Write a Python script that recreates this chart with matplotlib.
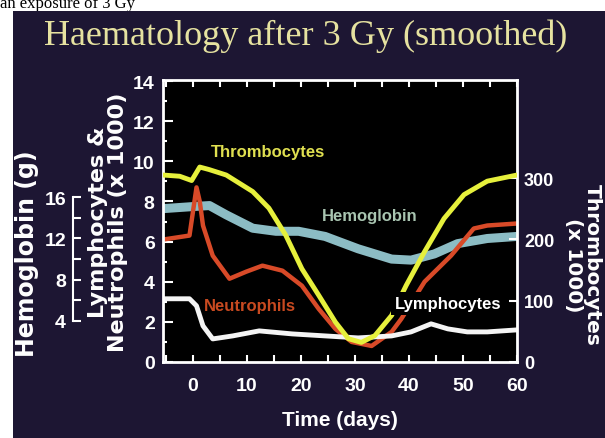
import matplotlib
matplotlib.use("Agg")
import matplotlib.pyplot as plt
from matplotlib.patches import Rectangle
from matplotlib.ticker import MultipleLocator, FixedLocator

# data (days after exposure)
thr_days = [-5.5, -2.4, -0.2, 1.3, 3.0, 6.2, 11.1, 14.1, 17.2, 20.2, 23.3, 26.4, 28.8,
            31.2, 33.7, 36.8, 38.0, 39.5, 42.9, 46.5, 50.2, 54.5, 60]
thr_vals = [305, 303, 296, 318, 314, 305, 278, 251, 207, 152, 109, 65, 38,
            32, 43, 76, 98, 125, 180, 234, 273, 295, 305]          # x 1000

hb_days = [-5.5, 0.0, 3.1, 6.2, 11.1, 15.4, 19.6, 24.5, 30.6, 36.8, 40.4, 44.7, 49.0, 54.5, 60]
hb_vals = [14.9, 15.1, 15.2, 14.3, 13.0, 12.7, 12.7, 12.2, 11.0, 10.0, 9.9, 10.5, 11.5, 12.0, 12.2]  # g

neu_days = [-5.5, -0.6, 0.7, 1.3, 1.9, 3.7, 6.8, 9.9, 12.9, 16.6, 20.2, 23.3, 26.4, 29.4,
            33.1, 36.8, 38.6, 42.9, 47.8, 52.0, 54.5, 60]
neu_vals = [6.1, 6.3, 8.7, 8.0, 6.8, 5.3, 4.15, 4.5, 4.8, 4.55, 3.8, 2.65, 1.65, 1.0,
            0.8, 1.5, 2.15, 4.0, 5.3, 6.65, 6.8, 6.9]              # x 1000

lym_days = [-5.5, -0.6, 0.7, 1.9, 3.7, 7.4, 12.3, 18.4, 24.5, 30.6, 36.8, 40.4, 44.1,
            47.2, 50.8, 54.5, 60]
lym_vals = [3.15, 3.15, 2.8, 1.8, 1.15, 1.3, 1.55, 1.4, 1.3, 1.2, 1.3, 1.5, 1.9,
            1.65, 1.5, 1.5, 1.6]                                   # x 1000

day_ticks = [0, 10, 20, 30, 40, 50, 60]
cell_ticks = [0, 2, 4, 6, 8, 10, 12, 14]
thr_ticks = [0, 100, 200, 300]
hb_ticks = [4, 8, 12, 16]

BG = "#1d1633"
narrow = "Liberation Sans"

fig = plt.figure(figsize=(6.05, 4.39), dpi=100, facecolor="white")
fig.patches.append(Rectangle((13 / 605, 0), 1, 1 - 12 / 439, transform=fig.transFigure,
                             facecolor=BG, edgecolor="none", zorder=-5))
# caption from the slide above, cut by the top edge as in the original
fig.text(0.0, 1 - 8 / 439, "an exposure of 3 Gy", family="Liberation Serif",
         fontsize=12, color="black", va="baseline", ha="left", zorder=-6)

fig.text(0.506, 1 - 36 / 439, "Haematology after 3 Gy (smoothed)", family="Liberation Serif",
         fontsize=26, color="#e6e2a0", ha="center", va="center")

rect = [163 / 605, 1 - 363 / 439, 354 / 605, 282 / 439]
ax_h = fig.add_axes(rect, zorder=-1)
ax = fig.add_axes(rect, zorder=0)
ax_r = fig.add_axes(rect, zorder=1)

# hemoglobin axis, drawn at the far left
ax_h.set_facecolor("black")
ax_h.plot(hb_days, hb_vals, color="#8cbcc4", lw=6.5, solid_capstyle="butt")
ax_h.set_xlim(-5.5, 60)
ax_h.set_ylim(0, 27.4)
ax_h.set_xticks([])
for s in ["top", "right", "bottom"]:
    ax_h.spines[s].set_visible(False)
ax_h.spines["left"].set_position(("axes", (73 - 163) / 354))
ax_h.spines["left"].set_bounds(4, 16)
ax_h.spines["left"].set_color("white")
ax_h.spines["left"].set_linewidth(1.5)
ax_h.yaxis.set_major_locator(FixedLocator(hb_ticks))
ax_h.yaxis.set_minor_locator(FixedLocator([6, 10, 14]))
ax_h.tick_params(axis="y", which="both", direction="in", length=6, width=1.5,
                 colors="white", pad=5)
for t in ax_h.get_yticklabels():
    t.set_family(narrow)
    t.set_fontsize(14)
    t.set_fontweight("bold")

# lymphocytes & neutrophils
ax.patch.set_visible(False)
ax.plot(neu_days, neu_vals, color="#d84a28", lw=3.2)
ax.plot(lym_days, lym_vals, color="#f4f4f4", lw=3.5)
ax.set_xlim(-5.5, 60)
ax.set_ylim(0, 14.05)
ax.set_xticks(day_ticks)
ax.xaxis.set_minor_locator(MultipleLocator(5))
ax.set_yticks(cell_ticks)
ax.yaxis.set_minor_locator(MultipleLocator(1))
ax.tick_params(which="both", direction="in", colors="white", width=1.5, top=True,
               labelsize=14)
ax.tick_params(axis="x", which="major", length=5, pad=11)
ax.tick_params(axis="x", which="minor", length=5)
ax.tick_params(axis="y", which="major", length=7, pad=6)
ax.tick_params(axis="y", which="minor", length=3)
for t in ax.get_xticklabels() + ax.get_yticklabels():
    t.set_family(narrow)
    t.set_fontweight("bold")
for s in ax.spines.values():
    s.set_color("white")
    s.set_linewidth(2)

# thrombocytes on the right
ax_r.patch.set_visible(False)
ax_r.plot(thr_days, thr_vals, color="#e6f03c", lw=3.5)
ax_r.set_xlim(-5.5, 60)
ax_r.set_ylim(0, 460)
ax_r.set_xticks([])
ax_r.yaxis.tick_right()
ax_r.set_yticks(thr_ticks)
ax_r.tick_params(axis="y", direction="in", length=6, width=1.5, colors="white", pad=5,
                 labelsize=13)
for t in ax_r.get_yticklabels():
    t.set_family(narrow)
    t.set_fontweight("bold")
for s in ax_r.spines.values():
    s.set_visible(False)

# curve labels
lab = dict(transform=ax.transData, family=narrow, fontsize=12, fontweight="bold",
           ha="center", va="center")
ax_r.text(13.9, 10.5, "Thrombocytes", color="#e0e050", **lab)
ax_r.text(32.7, 7.3, "Hemoglobin", color="#a8c4b0", **lab)
ax_r.text(10.6, 2.8, "Neutrophils", color="#c84a20", **lab)
ax_r.text(47.3, 2.9, "Lymphocytes", color="white",
          bbox=dict(facecolor="black", edgecolor="none", pad=3), **lab)

# axis titles
fig.text(340 / 605, 1 - 421 / 439, "Time (days)", family=narrow, fontsize=15, fontweight="bold",
         color="white", ha="center", va="center")
fig.text(27 / 605, 1 - 254 / 439, "Hemoglobin (g)", family="DejaVu Sans", fontsize=17,
         fontweight="bold", color="white", rotation=90, ha="center", va="center")
fig.text(108 / 605, 1 - 222 / 439, "Lymphocytes &\nNeutrophils (x 1000)", family="DejaVu Sans",
         fontsize=16, fontweight="bold", color="white", rotation=90, ha="center", va="center",
         multialignment="center", linespacing=1.0)
fig.text(583 / 605, 1 - 265 / 439, "Thrombocytes\n(x 1000)", family="DejaVu Sans",
         fontsize=14.5, fontweight="bold", color="white", rotation=-90, ha="center", va="center",
         multialignment="center", linespacing=1.0)

fig.savefig("out.png", dpi=100, facecolor="white")
